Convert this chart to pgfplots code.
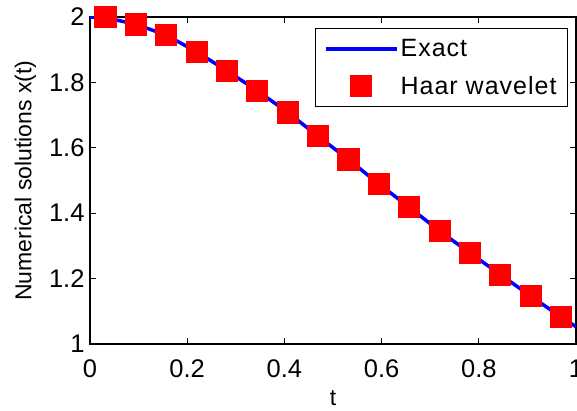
\documentclass[border=0pt]{standalone}
\usepackage{pgfplots}
\pgfplotsset{compat=1.18}
\usepackage{fontspec}
\setmainfont{Liberation Sans}

\pgfplotsset{
  exactleg/.style={legend image code/.code={\draw[##1] (0pt,0pt) -- (71pt,0pt);}},
  haarleg/.style={legend image code/.code={\draw[mark repeat=1, mark phase=1, ##1] plot coordinates {(35.5pt,0pt)};}},
}

\pgfplotstableread{
t       x
0.03125 2.000
0.09375 1.978
0.15625 1.945
0.21875 1.894
0.28125 1.836
0.34375 1.775
0.40625 1.709
0.46875 1.636
0.53125 1.565
0.59375 1.490
0.65625 1.419
0.71875 1.346
0.78125 1.279
0.84375 1.213
0.90625 1.147
0.96875 1.083
}\haar

\pgfplotstableread{
t       x
0       2.000
0.03125 1.998
0.09375 1.978
0.15625 1.945
0.21875 1.894
0.28125 1.836
0.34375 1.775
0.40625 1.709
0.46875 1.636
0.53125 1.565
0.59375 1.490
0.65625 1.419
0.71875 1.346
0.78125 1.279
0.84375 1.213
0.90625 1.147
0.96875 1.083
1       1.053
}\exact

\begin{document}
\begin{tikzpicture}
\begin{axis}[
  at={(0pt,0pt)}, anchor=south west,
  scale only axis, width=486pt, height=327pt,
  xmin=0, xmax=1, ymin=1, ymax=2,
  xtick={0,0.2,...,1}, ytick={1,1.2,...,2},
  tick align=inside, major tick length=6pt,
  axis line style={line width=1.3pt},
  every tick/.style={black, line width=0.8pt},
  /pgf/number format/assume math mode=true,
  ticklabel style={font=\fontsize{25.5}{30}\selectfont},
  xticklabel style={yshift=-12pt},
  yticklabel style={xshift=-2pt},
  xlabel={t}, ylabel={Numerical solutions x(t)},
  label style={font=\fontsize{23}{28}\selectfont},
  xlabel style={yshift=-6pt},
  ylabel style={yshift=6pt},
  legend style={at={(1,1)}, anchor=north east, xshift=-8pt, yshift=-11pt,
    draw=black, line width=1pt,
    font=\fontsize{25}{30}\selectfont\addfontfeature{LetterSpace=4},
    inner xsep=9pt, inner ysep=9pt, row sep=14pt, cells={anchor=west}},
]
\addplot[blue, line width=3.5pt, exactleg] table[x=t, y=x] {\exact};
\addlegendentry{Exact}
\addplot[only marks, mark=square*, mark size=10.6pt, red, mark options={fill=red, draw=red}, haarleg]
  table[x=t, y=x] {\haar};
\addlegendentry{Haar wavelet}
\end{axis}
\pgfresetboundingbox
\path[use as bounding box] (-90pt,-66pt) rectangle (487pt,344pt);
\end{tikzpicture}
\end{document}
